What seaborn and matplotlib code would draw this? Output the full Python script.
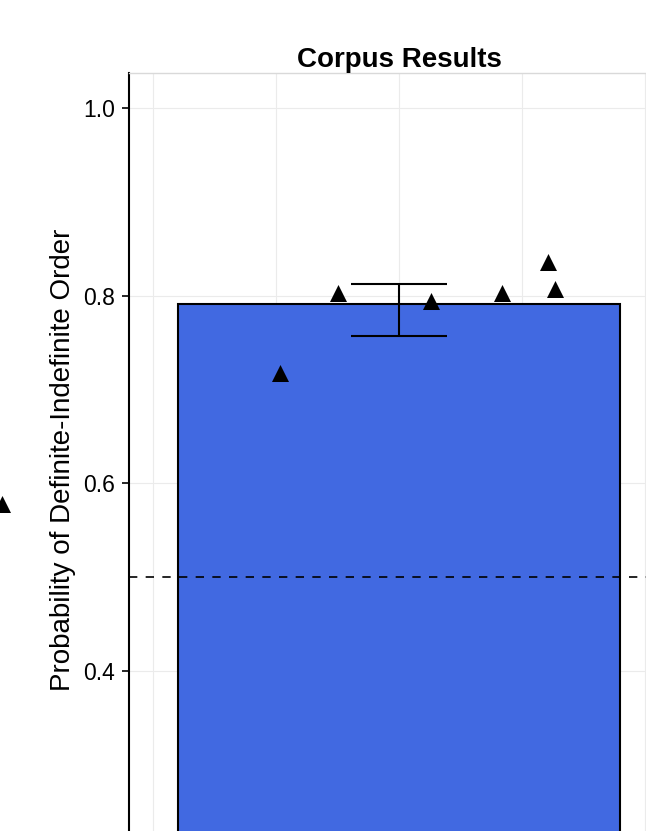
import matplotlib
matplotlib.use("Agg")
import matplotlib.pyplot as plt
import seaborn as sns
import pandas as pd
import numpy as np

# ---- data ----
category = ["Corpus"]
bar_mean = [0.791]
ci_low = [0.757]
ci_high = [0.813]
point_x = [-0.967, -0.496, 0.262, 0.839, 1.211, 1.268]
point_y = [0.718, 0.803, 0.794, 0.803, 0.836, 0.807]
stray_x = [-3.23]
stray_y = [0.578]
chance_level = 0.5
title = "Corpus Results"
ylabel = "Probability of Definite-Indefinite Order"
yticks = [0.4, 0.6, 0.8, 1.0]
xgrid = [-2, -1, 0, 1, 2]

sns.set_theme(style="white")
plt.rcParams["font.family"] = ["Liberation Sans", "DejaVu Sans"]

fig = plt.figure(figsize=(6.46, 8.31), dpi=100)
W, H = 646, 831
ax_left, ax_right, ax_top, ax_bottom = 129, 669, 73, 847
ax = fig.add_axes([ax_left / W, (H - ax_bottom) / H,
                   (ax_right - ax_left) / W, (ax_bottom - ax_top) / H])

df = pd.DataFrame({"x": [0.0], "y": bar_mean})
sns.barplot(data=df, x="x", y="y", native_scale=True, width=3.59,
            color="#4169E1", saturation=1, edgecolor="black", linewidth=1.5,
            errorbar=None, ax=ax, zorder=2)

ax.errorbar([0.0], bar_mean,
            yerr=[[bar_mean[0] - ci_low[0]], [ci_high[0] - bar_mean[0]]],
            fmt="none", ecolor="black", elinewidth=1.5, capsize=34.5,
            capthick=1.5, zorder=4)

ax.axhline(chance_level, color="black", lw=1.2, dashes=(5, 5), zorder=3)

pts = pd.DataFrame({"x": point_x, "y": point_y})
sns.scatterplot(data=pts, x="x", y="y", marker="^", color="black",
                s=150, linewidth=0, ax=ax, zorder=5)
ax.scatter(stray_x, stray_y, marker="^", color="black", s=150,
           linewidth=0, clip_on=False, zorder=5)

ax.set_xlim(-2.195, 2.195)
ax.set_ylim(0.2125, 1.0375)
ax.set_xticks(xgrid)
ax.set_yticks(yticks)
ax.set_yticklabels([f"{v:.1f}" for v in yticks])
ax.tick_params(axis="x", bottom=False, labelbottom=False)
ax.tick_params(axis="y", left=True, length=5, width=1.2, color="black",
               labelsize=16.5, pad=5, labelcolor="black")
ax.grid(True, color="#EBEBEB", lw=0.8, zorder=0)
ax.set_axisbelow(True)

for side in ["right", "bottom"]:
    ax.spines[side].set_visible(False)
ax.spines["left"].set_color("black")
ax.spines["left"].set_linewidth(1.5)
ax.spines["top"].set_color("#D9D9D9")
ax.spines["top"].set_linewidth(1.0)

ax.set_xlabel("")
ax.set_ylabel(ylabel, fontsize=20, color="black", labelpad=5)
ax.set_title(title, fontsize=20, fontweight="bold", color="black", pad=4)

fig.savefig("out.png", dpi=100)
